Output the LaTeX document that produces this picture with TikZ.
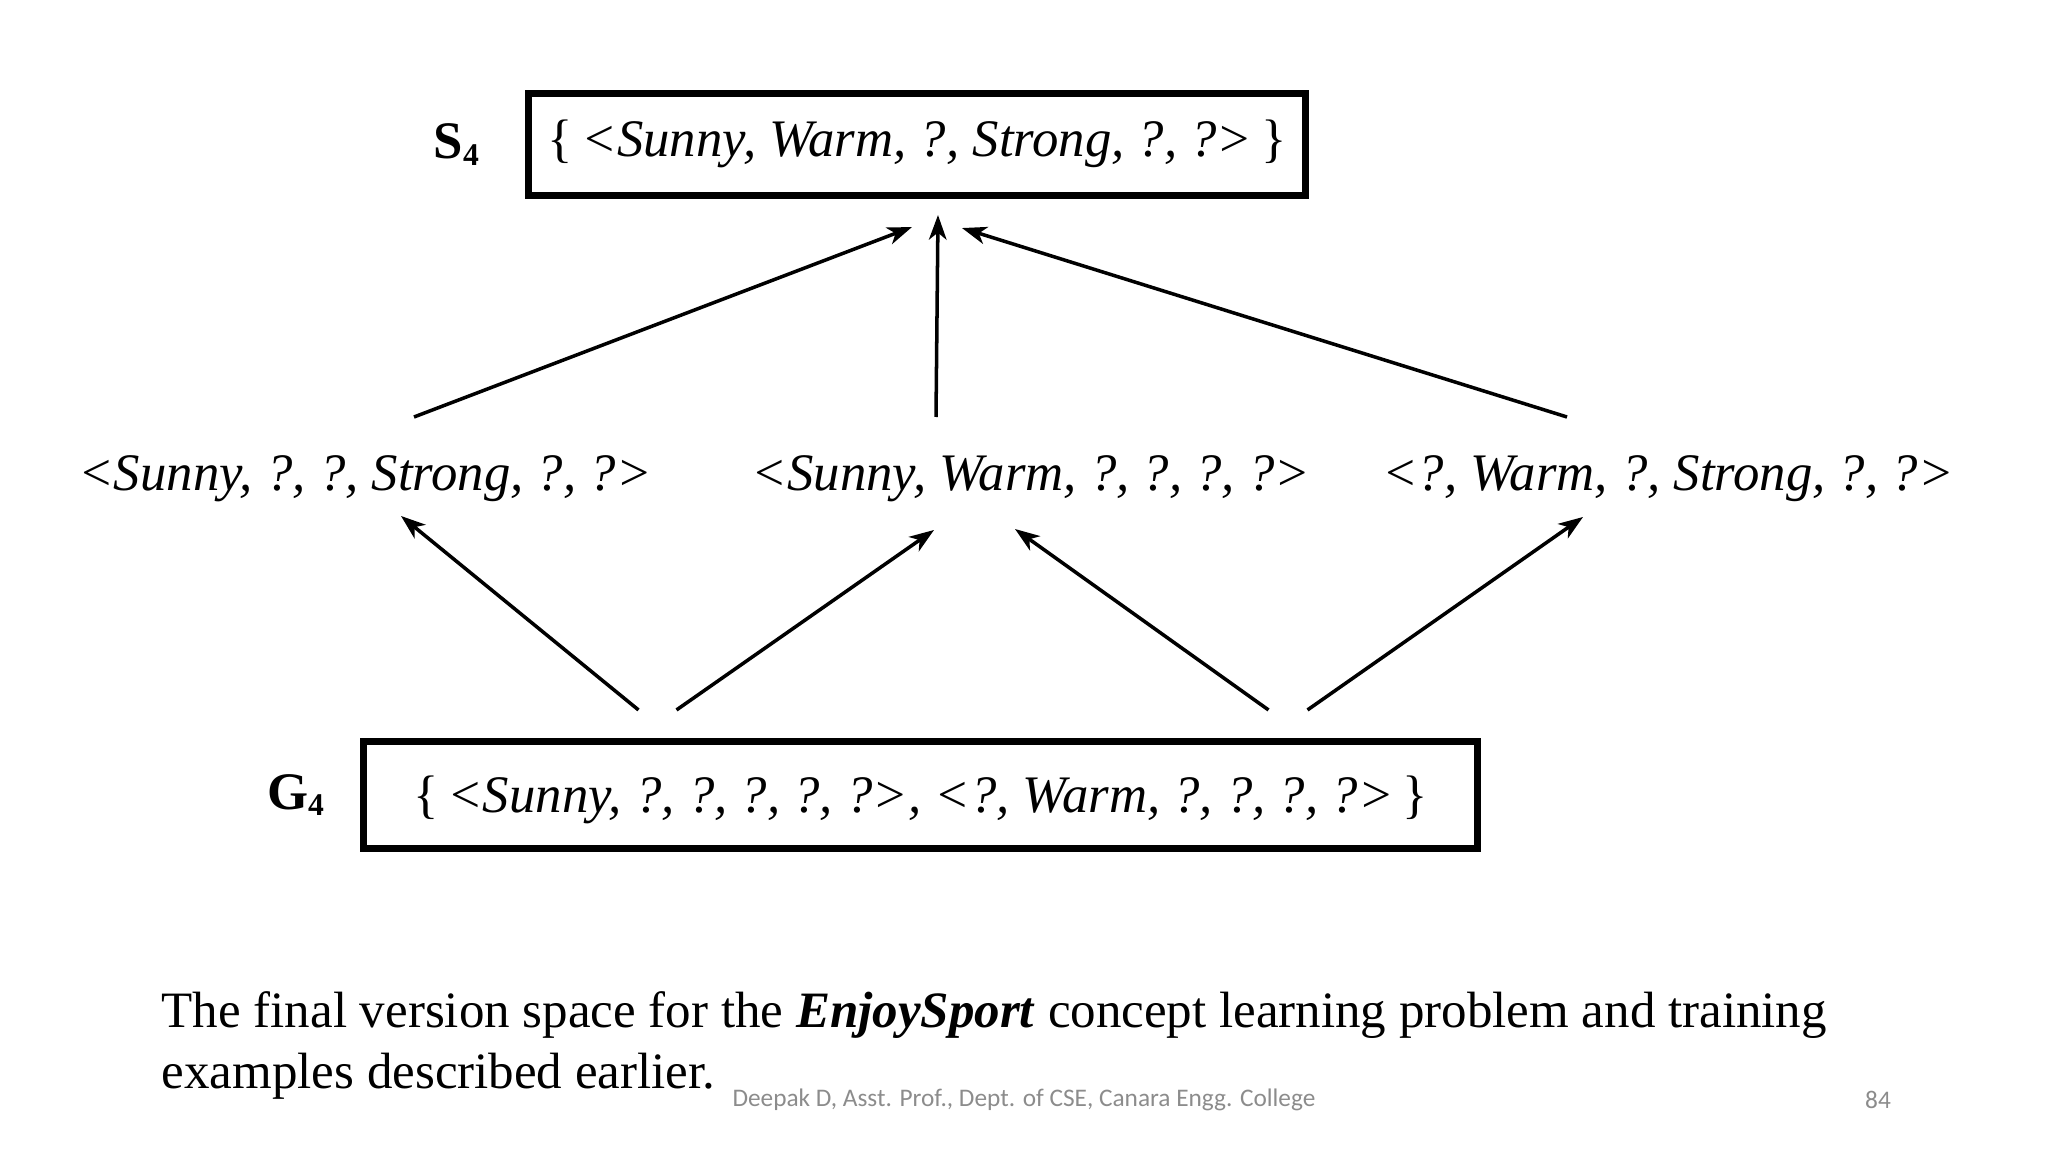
\documentclass[tikz,border=0pt]{standalone}
\usepackage{fontspec}
\setmainfont{Liberation Serif}
\newfontfamily\footfont{Carlito}
\usetikzlibrary{calc}
\usetikzlibrary{positioning}
\usetikzlibrary{arrows.meta}
\tikzset{>={Stealth[length=7pt,width=5pt,inset=2pt]}}
\colorlet{footgray}{black!45}
\tikzstyle{setbox}=[draw,line width=2pt,inner sep=0pt]
\tikzstyle{hyp}=[inner sep=0pt,font=\fontsize{15}{18}\selectfont\itshape]
\tikzstyle{edge}=[->,line width=1pt]
\tikzstyle{setlabel}=[inner sep=0pt,font=\fontsize{15}{18}\selectfont\bfseries]
\tikzstyle{caption}=[inner sep=0pt,anchor=base west,font=\fontsize{14.5}{17}\selectfont]
\tikzstyle{foot}=[inner sep=0pt,footgray,font=\footfont\fontsize{7.2}{9}\selectfont]
\newcommand\setname[1]{#1\raisebox{-1.8pt}{\fontsize{9}{11}\selectfont 4}}
\newcommand\hset[1]{{\upshape\{\,}#1{\upshape\,\}}}

\begin{document}
\begin{tikzpicture}[x=0.01cm,y=-0.01cm]
  \useasboundingbox (0,0) rectangle (2048,1152);

  % BOUNDARY SETS
  \node[setbox,minimum width=7.77cm,minimum height=1.02cm,
    text height=12pt,text depth=4.9pt,font=\fontsize{15}{18}\selectfont\itshape]
    (s4) at (917,144.5) {\hset{<Sunny, Warm, ?, Strong, ?, ?>}};
  \node[setbox,minimum width=11.14cm,minimum height=1.07cm,
    text height=13pt,text depth=3.3pt,font=\fontsize{15}{18}\selectfont\itshape]
    (g4) at (920.5,795) {\hset{<Sunny, ?, ?, ?, ?, ?>, <?, Warm, ?, ?, ?, ?>}};
  \node[setlabel,left=0.45cm of s4] (s4lab) {\setname{S}};
  \node[setlabel,left=0.35cm of g4] (g4lab) {\setname{G}};

  % HYPOTHESES IN BETWEEN
  \node[hyp,anchor=base] (h1) at (365,491)  {<Sunny, ?, ?, Strong, ?, ?>};
  \node[hyp,anchor=base] (h2) at (1031,491) {<Sunny, Warm, ?, ?, ?, ?>};
  \node[hyp,anchor=base] (h3) at (1668,491) {<?, Warm, ?, Strong, ?, ?>};

  % ORDERING
  \draw[edge] ($(h1.base)+(49,-74)$)  -- ($(s4.south)+(-5,28)$);
  \draw[edge] ($(h2.base)+(-95,-74)$) -- ($(s4.south)+(21,16)$);
  \draw[edge] ($(h3.base)+(-101,-74)$) -- ($(s4.south)+(45,29)$);
  \draw[edge] ($(g4.north)+(-282,-28)$) -- ($(h1.base)+(36,25)$);
  \draw[edge] ($(g4.north)+(-244,-28)$) -- ($(h2.base)+(-97,39)$);
  \draw[edge] ($(g4.north)+(348,-28)$)  -- ($(h2.base)+(-16,38)$);
  \draw[edge] ($(g4.north)+(387,-28)$)  -- ($(h3.base)+(-85,26)$);

  % CAPTION
  \node[caption] (cap1) at (161,1027)
    {The final version space for the \textbf{\textit{EnjoySport}} concept learning problem and training};
  \node[caption] (cap2) at ($(cap1.base west)+(0,61)$) {examples described earlier.};
  \node[foot] (credit) at (1024,1100) {Deepak D, Asst. Prof., Dept. of CSE, Canara Engg. College};
  \node[foot] (pageno) at (1878,1100) {84};
\end{tikzpicture}
\end{document}
